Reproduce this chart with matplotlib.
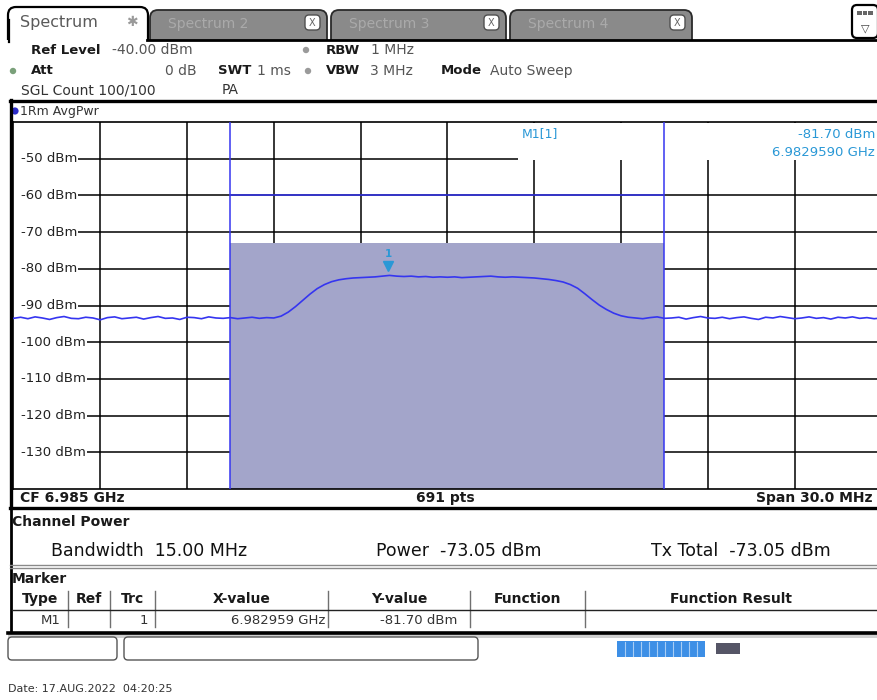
import numpy as np
import matplotlib
matplotlib.use("Agg")
import matplotlib.pyplot as plt
from matplotlib.patches import Rectangle, FancyBboxPatch, Circle

# ---------------- data ----------------
start_ghz = 6.970
stop_ghz = 7.000
level_top = -40.0
level_bottom = -140.0
ytick_levels = [-50, -60, -70, -80, -90, -100, -110, -120, -130]
ytick_labels = [f"{v} dBm" for v in ytick_levels]
vgrid_ghz = [6.973, 6.976, 6.979, 6.982, 6.985, 6.988, 6.991, 6.994, 6.997]
channel_low_ghz = 6.9775
channel_high_ghz = 6.9925
channel_power_dbm = -73.05
display_line_dbm = -60.0
trace_offset_mhz = np.arange(0, 30.001, 0.25)
trace_dbm = [
    -93.5, -93.2, -93.6, -93.1, -93.4, -93.8, -93.3, -93.0, -93.5, -93.6,
    -93.2, -93.4, -93.9, -93.3, -93.1, -93.6, -93.4, -93.2, -93.7, -93.3,
    -93.0, -93.5, -93.4, -93.8, -93.2, -93.3, -93.6, -93.1, -93.4, -93.5,
    -93.3, -93.6, -93.4, -93.2, -93.5, -93.3, -93.4,
    -92.9, -91.8, -90.3, -88.6, -86.9, -85.4, -84.3, -83.5, -83.0, -82.7, -82.5,
    -82.4, -82.3, -82.2, -82.0, -81.8, -82.0, -82.1, -82.0, -82.2, -82.1,
    -82.3, -82.2, -82.3, -82.2, -82.4, -82.3, -82.2, -82.1, -82.0, -82.2,
    -82.3, -82.2, -82.3, -82.4, -82.5, -82.7,
    -82.9, -83.2, -83.6, -84.3, -85.3, -86.8, -88.4, -89.9, -91.1, -92.1, -92.8, -93.2,
    -93.4, -93.6, -93.3, -93.1, -93.5, -93.4, -93.2, -93.7, -93.3, -93.0,
    -93.4, -93.5, -93.2, -93.6, -93.3, -93.1, -93.5, -93.8, -93.2, -93.4,
    -93.0, -93.3, -93.6, -93.4, -93.1, -93.5, -93.3, -93.7, -93.2, -93.4,
    -93.1, -93.5, -93.3, -93.6, -93.4,
]
marker_ghz = 6.982959
marker_dbm = -81.70
tab_titles = ["Spectrum", "Spectrum 2", "Spectrum 3", "Spectrum 4"]
table_headers = ["Type", "Ref", "Trc", "X-value", "Y-value", "Function", "Function Result"]
table_row = ["M1", "", "1", "6.982959 GHz", "-81.70 dBm", "", ""]

# ---------------- figure ----------------
W, H = 877, 700
fig = plt.figure(figsize=(W / 100, H / 100), dpi=100)
fig.patch.set_facecolor("white")
ui = fig.add_axes([0, 0, 1, 1], zorder=0)
ui.set_xlim(0, W)
ui.set_ylim(H, 0)
ui.axis("off")

FONT = "DejaVu Sans"
BLUE = "#3535f0"
MCOL = "#2a98d6"


def txt(x, y, s, size=9.5, weight="normal", ha="left", color="#1a1a1a", ax=None, **kw):
    a = ax if ax is not None else ui
    return a.text(x, y, s, fontsize=size, fontweight=weight, ha=ha, va="center",
                  color=color, family=FONT, transform=ui.transData, **kw)


# tabs
tab_x = [(8, 148), (150, 327), (331, 506), (510, 692)]
for i, (x0, x1) in enumerate(tab_x):
    if i == 0:
        p = FancyBboxPatch((x0, 7), x1 - x0, 50, boxstyle="round,pad=0,rounding_size=8",
                           fc="white", ec="black", lw=1.6)
    else:
        p = FancyBboxPatch((x0, 10), x1 - x0, 45, boxstyle="round,pad=0,rounding_size=8",
                           fc="#8a8a8a", ec="#2a2a2a", lw=1.3)
    ui.add_patch(p)
ui.add_patch(Rectangle((0, 40), W, 62, fc="white", ec="none"))
ui.plot([147, W], [39.5, 39.5], color="black", lw=2.0)
ui.plot([8.8, 8.8], [20, 42], color="black", lw=1.6)
txt(20, 23, tab_titles[0], size=11.5, color="#5a5a5a")
txt(132, 22, "\u2731", size=10, color="#9a9a9a", ha="center")
for i, (x0, x1) in enumerate(tab_x[1:]):
    txt(x0 + 18, 24, tab_titles[i + 1], size=10, color="#aaaaaa")
    ui.add_patch(FancyBboxPatch((x1 - 22, 15), 15, 15, boxstyle="round,pad=0,rounding_size=4",
                                fc="white", ec="#505050", lw=1))
    txt(x1 - 14.5, 22.5, "X", size=7, color="#666666", ha="center")
# right icon
ui.add_patch(FancyBboxPatch((852, 5), 26, 33, boxstyle="round,pad=0,rounding_size=5",
                            fc="white", ec="black", lw=1.6))
for k in range(3):
    ui.add_patch(Rectangle((857 + k * 5.5, 11), 4.5, 4, fc="#666666", ec="none"))
txt(865, 28, "\u25bd", size=8, color="#444444", ha="center")

# header
HV = "#555555"
txt(31, 50, "Ref Level", weight="bold")
txt(112, 50, "-40.00 dBm", size=10, color=HV)
ui.add_patch(Circle((306, 50), 3.2, fc="#9a9a9a", ec="none"))
txt(326, 50, "RBW", weight="bold")
txt(371, 50, "1 MHz", size=10, color=HV)
ui.add_patch(Circle((13, 71), 3.2, fc="#7aa07a", ec="none"))
txt(31, 71, "Att", weight="bold")
txt(197, 71, "0 dB", size=10, ha="right", color=HV)
txt(218, 71, "SWT", weight="bold")
txt(257, 71, "1 ms", size=10, color=HV)
ui.add_patch(Circle((308, 71), 3.2, fc="#9a9a9a", ec="none"))
txt(326, 71, "VBW", weight="bold")
txt(370, 71, "3 MHz", size=10, color=HV)
txt(441, 71, "Mode", weight="bold")
txt(490, 71, "Auto Sweep", size=10, color=HV)
txt(21, 90, "SGL Count 100/100", size=10, color="#333333")
txt(222, 90, "PA", size=10, color="#333333")

# diagram frame
ui.plot([10, W], [100.5, 100.5], color="black", lw=2.4)
ui.plot([10.5, 10.5], [100, 506], color="black", lw=2.4)
ui.plot([10, W], [507.5, 507.5], color="black", lw=2.4)
ui.add_patch(Circle((15, 111), 3.6, fc="#2b2bc8", ec="none"))
txt(20, 111, "1Rm AvgPwr", size=9, color="#333333")
txt(20, 498, "CF 6.985 GHz", size=10, weight="bold")
txt(445, 498, "691 pts", size=10, weight="bold", ha="center")
txt(872, 498, "Span 30.0 MHz", size=10, weight="bold", ha="right")

# channel power panel
ui.plot([10.5, 10.5], [508, 632], color="black", lw=2.0)
txt(12, 522, "Channel Power", size=10, weight="bold")
txt(51, 551, "Bandwidth  15.00 MHz", size=12.5, color="#111111")
txt(376, 551, "Power  -73.05 dBm", size=12.5, color="#111111")
txt(651, 551, "Tx Total  -73.05 dBm", size=12.5, color="#111111")
ui.plot([10, W], [565, 565], color="#8a8a8a", lw=1.0)
ui.plot([10, W], [568, 568], color="#8a8a8a", lw=1.0)
txt(12, 579, "Marker", size=10, weight="bold")

# marker table
col_left = [12, 68, 110, 155, 328, 470, 585, W]
for i, h in enumerate(table_headers):
    cx = (col_left[i] + col_left[i + 1]) / 2
    txt(cx, 599, h, size=10, weight="bold", ha="center")
for xs in col_left[1:-1]:
    ui.plot([xs, xs], [591, 627], color="#707070", lw=1.0)
ui.plot([12, W], [609.5, 609.5], color="#222222", lw=1.0)
row_right = [61, 106, 148, 325, 457, 580, 870]
for i, v in enumerate(table_row):
    if v:
        txt(row_right[i], 620, v, size=9.5, ha="right", color="#333333")
ui.plot([8, W], [632.5, 632.5], color="black", lw=2.6)
ui.add_patch(Rectangle((8, 634), W, 4, fc="#cfcfcf", ec="none"))

# status bar
ui.add_patch(FancyBboxPatch((8, 637), 109, 23, boxstyle="round,pad=0,rounding_size=4",
                            fc="white", ec="#555555", lw=1.0))
ui.add_patch(FancyBboxPatch((124, 637), 354, 23, boxstyle="round,pad=0,rounding_size=4",
                            fc="white", ec="#555555", lw=1.0))
ui.add_patch(Rectangle((617, 641), 88, 16, fc="#3d8fe6", ec="none"))
for k in range(1, 11):
    ui.plot([617 + k * 8, 617 + k * 8], [642, 656], color="#a8cdf5", lw=0.8)
ui.add_patch(Rectangle((716, 643), 24, 11, fc="#555566", ec="none"))
txt(8, 689, "Date: 17.AUG.2022  04:20:25", size=8, color="#333333")

# ---------------- spectrum axes ----------------
x0p, x1p, y0p, y1p = 13.4, 881.4, 122.0, 489.0
ax = fig.add_axes([x0p / W, 1 - y1p / H, (x1p - x0p) / W, (y1p - y0p) / H], zorder=2)
ax.set_xlim(start_ghz, stop_ghz)
ax.set_ylim(level_bottom, level_top)
ax.set_xticks([])
ax.set_yticks([])
for s in ax.spines.values():
    s.set_color("black")
    s.set_linewidth(1.2)

freq_ghz = start_ghz + trace_offset_mhz / 1000.0

ax.vlines(vgrid_ghz, level_bottom, level_top, color="black", lw=1.1, zorder=1)
labels = []
for lv, lab in zip(ytick_levels, ytick_labels):
    t = ax.text(0.0088, lv, lab, transform=ax.get_yaxis_transform(), fontsize=9.5,
                family=FONT, color="#222222", va="center", ha="left", zorder=6)
    labels.append(t)
fig.canvas.draw()
r = fig.canvas.get_renderer()
inv = ax.transData.inverted()
for lv, t in zip(ytick_levels, labels):
    bb = t.get_window_extent(r)
    xs = inv.transform((bb.x1 + 1, 0))[0]
    ax.hlines(lv, xs, stop_ghz, color="black", lw=1.1, zorder=1)

# channel shading and lines
ax.fill_between([channel_low_ghz, channel_high_ghz], level_bottom, channel_power_dbm,
                color="#a3a5ca", lw=0, zorder=2)
# marker info box
ax.add_patch(Rectangle((518, 122.5), 370, 37.5, transform=ui.transData, fc="white",
                       ec="none", zorder=3))
ax.axvline(channel_low_ghz, color=BLUE, lw=1.1, zorder=4)
ax.axvline(channel_high_ghz, color=BLUE, lw=1.1, zorder=4)
ax.hlines(display_line_dbm, channel_low_ghz, channel_high_ghz, color=BLUE, lw=1.1, zorder=4)

# trace
ax.plot(freq_ghz, trace_dbm, color=BLUE, lw=1.2, zorder=5)

# marker
ax.plot([marker_ghz], [marker_dbm + 2.4], marker="v", ms=7.5, color=MCOL, mec=MCOL, zorder=6)
ax.text(marker_ghz, marker_dbm + 5.6, "1", fontsize=7.5, fontweight="bold", color=MCOL,
        ha="center", va="center", family=FONT, zorder=6)
txt(540, 134, "M1[1]", size=9, ha="center", color=MCOL, ax=ax, zorder=6)
txt(875, 134, f"{marker_dbm:.2f} dBm", size=9.5, ha="right", color=MCOL, ax=ax, zorder=6)
txt(875, 152, f"{marker_ghz:.7f} GHz", size=9.5, ha="right", color=MCOL, ax=ax, zorder=6)

fig.savefig("out.png", dpi=100, facecolor="white")
